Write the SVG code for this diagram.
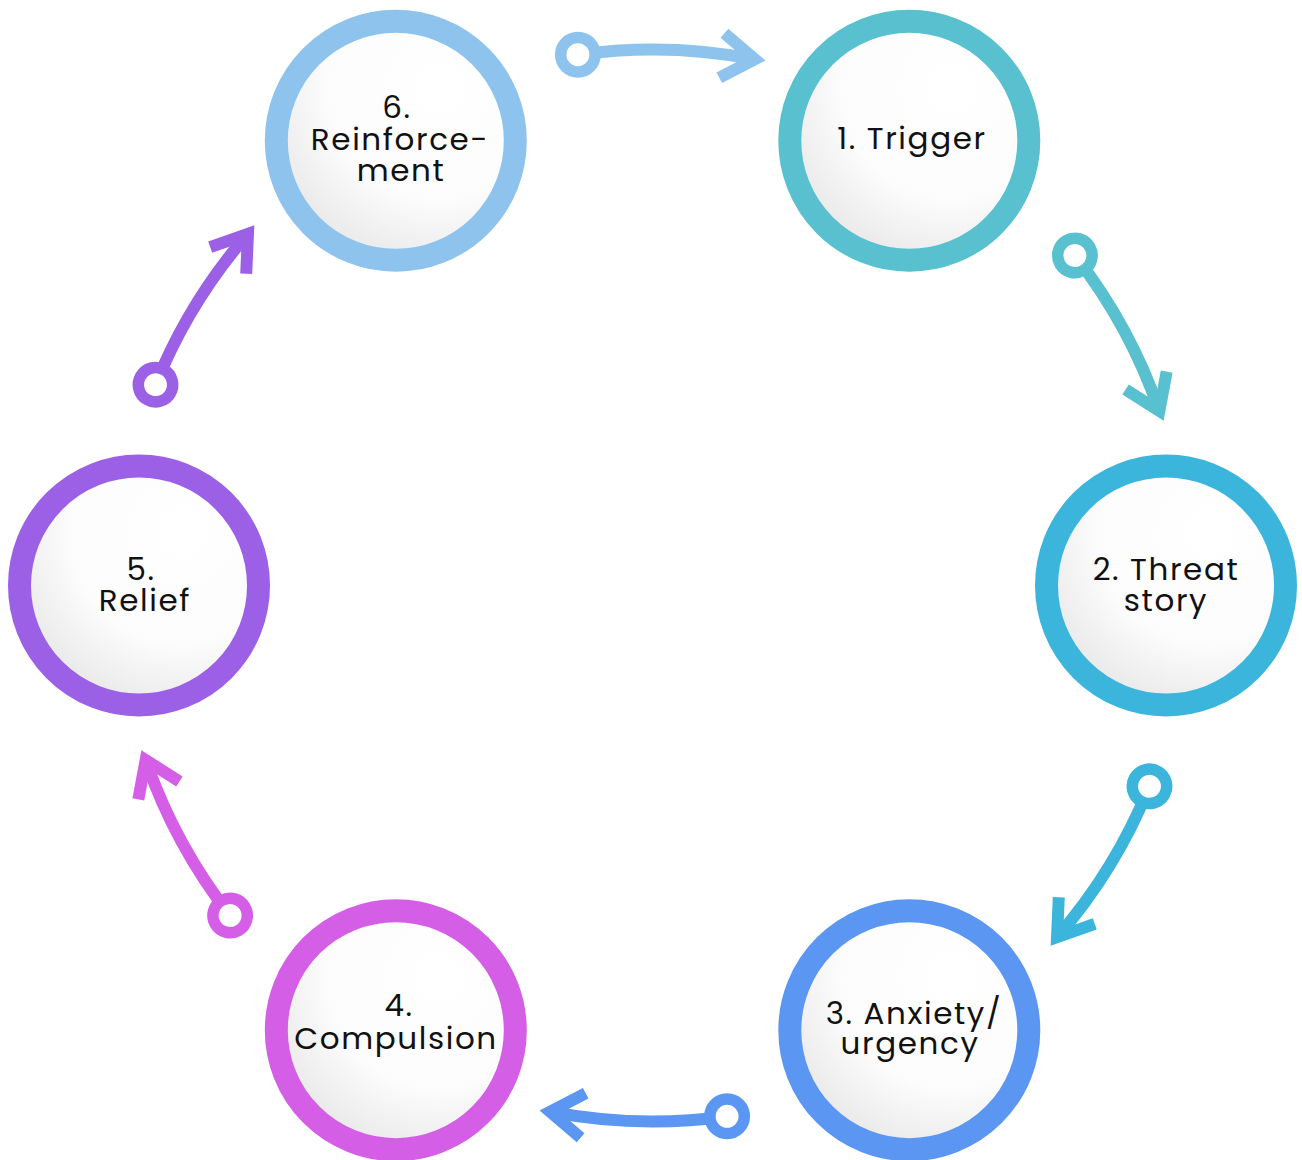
<svg xmlns="http://www.w3.org/2000/svg" width="1302" height="1160" viewBox="0 0 1302 1160">
<defs>
<radialGradient id="fill" cx="68%" cy="28%" r="85%">
<stop offset="0" stop-color="#ffffff"/>
<stop offset="0.55" stop-color="#fcfcfc"/>
<stop offset="1" stop-color="#e3e3e3"/>
</radialGradient>
</defs>
<style>
.ring{fill:url(#fill);stroke-width:23}
.lbl{font-family:"Poppins","Inter","DejaVu Sans",sans-serif;font-size:31px;letter-spacing:1.6px;fill:#111;text-anchor:middle}
.arc{fill:none;stroke-width:12}
.head{fill:none;stroke-width:12;stroke-linejoin:miter;stroke-miterlimit:10;stroke-linecap:butt}
.dot{fill:#fff;stroke-width:11.5}
</style>
<rect width="1302" height="1160" fill="#ffffff"/>
<g id="connectors">
<g id="c61" stroke="#8DC3EC" transform="rotate(0 652.5 585.5)">
<path class="arc" d="M577.9 54.7 A536 536 0 0 1 754.8 59.3"/>
<path class="head" d="M724.4 33.3 L754.8 59.3 L719.3 77.8"/>
<circle class="dot" cx="577.9" cy="54.7" r="17.2"/>
</g>
<g id="c12" stroke="#58C0CF" transform="rotate(60 652.5 585.5)">
<path class="arc" d="M577.9 54.7 A536 536 0 0 1 754.8 59.3"/>
<path class="head" d="M724.4 33.3 L754.8 59.3 L719.3 77.8"/>
<circle class="dot" cx="577.9" cy="54.7" r="17.2"/>
</g>
<g id="c23" stroke="#3BB5DC" transform="rotate(120 652.5 585.5)">
<path class="arc" d="M577.9 54.7 A536 536 0 0 1 754.8 59.3"/>
<path class="head" d="M724.4 33.3 L754.8 59.3 L719.3 77.8"/>
<circle class="dot" cx="577.9" cy="54.7" r="17.2"/>
</g>
<g id="c34" stroke="#5A96F2" transform="rotate(180 652.5 585.5)">
<path class="arc" d="M577.9 54.7 A536 536 0 0 1 754.8 59.3"/>
<path class="head" d="M724.4 33.3 L754.8 59.3 L719.3 77.8"/>
<circle class="dot" cx="577.9" cy="54.7" r="17.2"/>
</g>
<g id="c45" stroke="#D45FE6" transform="rotate(240 652.5 585.5)">
<path class="arc" d="M577.9 54.7 A536 536 0 0 1 754.8 59.3"/>
<path class="head" d="M724.4 33.3 L754.8 59.3 L719.3 77.8"/>
<circle class="dot" cx="577.9" cy="54.7" r="17.2"/>
</g>
<g id="c56" stroke="#9B60E6" transform="rotate(300 652.5 585.5)">
<path class="arc" d="M577.9 54.7 A536 536 0 0 1 754.8 59.3"/>
<path class="head" d="M724.4 33.3 L754.8 59.3 L719.3 77.8"/>
<circle class="dot" cx="577.9" cy="54.7" r="17.2"/>
</g>
</g>
<g id="node1">
<circle class="ring" cx="909.3" cy="140.8" r="119.5" stroke="#58C0CF"/>
<text class="lbl" x="912" y="149">1. Trigger</text>
</g>
<g id="node2">
<circle class="ring" cx="1166" cy="585.5" r="119.5" stroke="#3BB5DC"/>
<text class="lbl" x="1166" y="580">2. Threat</text>
<text class="lbl" x="1166" y="611">story</text>
</g>
<g id="node3">
<circle class="ring" cx="909.3" cy="1030.2" r="119.5" stroke="#5A96F2"/>
<text class="lbl" x="914" y="1024">3. Anxiety/</text>
<text class="lbl" x="910" y="1054">urgency</text>
</g>
<g id="node4">
<circle class="ring" cx="395.8" cy="1030.2" r="119.5" stroke="#D45FE6"/>
<text class="lbl" x="399" y="1016">4.</text>
<text class="lbl" x="396" y="1049">Compulsion</text>
</g>
<g id="node5">
<circle class="ring" cx="139" cy="585.5" r="119.5" stroke="#9B60E6"/>
<text class="lbl" x="141" y="580">5.</text>
<text class="lbl" x="145" y="611">Relief</text>
</g>
<g id="node6">
<circle class="ring" cx="395.8" cy="140.8" r="119.5" stroke="#8DC3EC"/>
<text class="lbl" x="397" y="118">6.</text>
<text class="lbl" x="400" y="150">Reinforce-</text>
<text class="lbl" x="401" y="181">ment</text>
</g>
</svg>
